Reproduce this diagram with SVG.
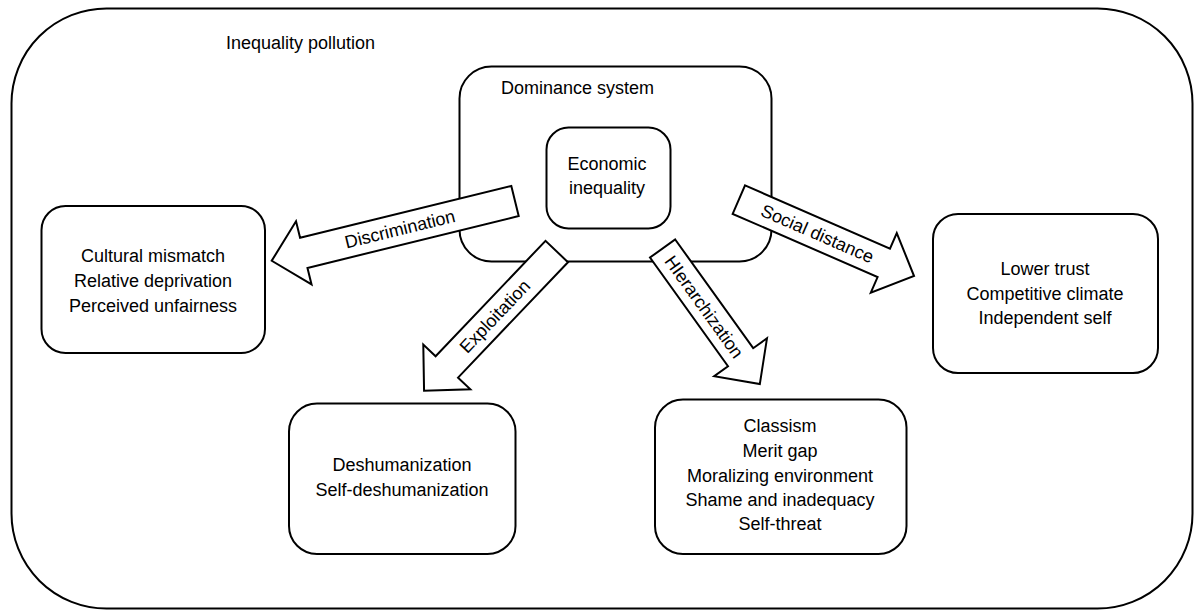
<svg xmlns="http://www.w3.org/2000/svg" width="1195" height="610" viewBox="0 0 1195 610">
<style>
.box{fill:#fff;stroke:#000;stroke-width:2}
.frame{fill:none;stroke:#000;stroke-width:2}
.arrow{fill:#fff;stroke:#000;stroke-width:2;stroke-linejoin:miter}
text{font-family:"Liberation Sans",Arial,sans-serif;font-size:18px;fill:#000}
.c{text-anchor:middle}
</style>
<rect width="1195" height="610" fill="#fff"/>
<g id="outer">
<rect class="frame" x="11.5" y="8.5" width="1181" height="600" rx="95" ry="95"/>
<text x="226" y="49">Inequality pollution</text>
</g>
<g id="dominance">
<rect class="box" x="459.5" y="66.5" width="312" height="195" rx="32" ry="32"/>
<text x="501" y="94">Dominance system</text>
</g>
<g id="economic">
<rect class="box" x="546.5" y="127.5" width="124" height="101" rx="22" ry="22"/>
<text class="c" x="607" y="170">Economic</text>
<text class="c" x="607" y="194">inequality</text>
</g>
<g id="left">
<rect class="box" x="41.5" y="206" width="223.5" height="147" rx="24" ry="24"/>
<text class="c" x="153" y="262">Cultural mismatch</text>
<text class="c" x="153" y="287">Relative deprivation</text>
<text class="c" x="153" y="312">Perceived unfairness</text>
</g>
<g id="deshum">
<rect class="box" x="289" y="403.5" width="226.5" height="150.5" rx="28" ry="28"/>
<text class="c" x="402" y="471">Deshumanization</text>
<text class="c" x="402" y="496">Self-deshumanization</text>
</g>
<g id="classism">
<rect class="box" x="655" y="399.5" width="251.5" height="154.5" rx="28" ry="28"/>
<text class="c" x="780" y="432">Classism</text>
<text class="c" x="780" y="456.5">Merit gap</text>
<text class="c" x="780" y="481.5">Moralizing environment</text>
<text class="c" x="780" y="506">Shame and inadequacy</text>
<text class="c" x="780" y="530">Self-threat</text>
</g>
<g id="right">
<rect class="box" x="933" y="214" width="225" height="159" rx="25" ry="25"/>
<text class="c" x="1045" y="275">Lower trust</text>
<text class="c" x="1045" y="299.5">Competitive climate</text>
<text class="c" x="1045" y="324">Independent self</text>
</g>
<g id="connectors">
<path class="arrow" transform="translate(515,201) rotate(166.2)" d="M0,-15.5 L217.5,-15.5 L217.5,-32.5 L250.5,0 L217.5,32.5 L217.5,15.5 L0,15.5 Z"/>
<text class="c" transform="translate(400,229.2) rotate(-13.8)" y="6">Discrimination</text>
<path class="arrow" transform="translate(556.75,251.5) rotate(133.6)" d="M0,-15.5 L159.4,-15.5 L159.4,-32.5 L192.4,0 L159.4,32.5 L159.4,15.5 L0,15.5 Z"/>
<text class="c" transform="translate(495,316.5) rotate(-46.4)" y="6">Exploitation</text>
<path class="arrow" transform="translate(662.6,248.5) rotate(54.35)" d="M0,-15.5 L133.8,-15.5 L133.8,-32.5 L166.8,0 L133.8,32.5 L133.8,15.5 L0,15.5 Z"/>
<text class="c" transform="translate(704,307) rotate(54.35)" y="6">HIerarchization</text>
<path class="arrow" transform="translate(738.85,199.65) rotate(23.55)" d="M0,-15.5 L158.1,-15.5 L158.1,-32.5 L191.1,0 L158.1,32.5 L158.1,15.5 L0,15.5 Z"/>
<text class="c" transform="translate(817.3,233.85) rotate(23.55)" y="6">Social distance</text>
</g>
</svg>
